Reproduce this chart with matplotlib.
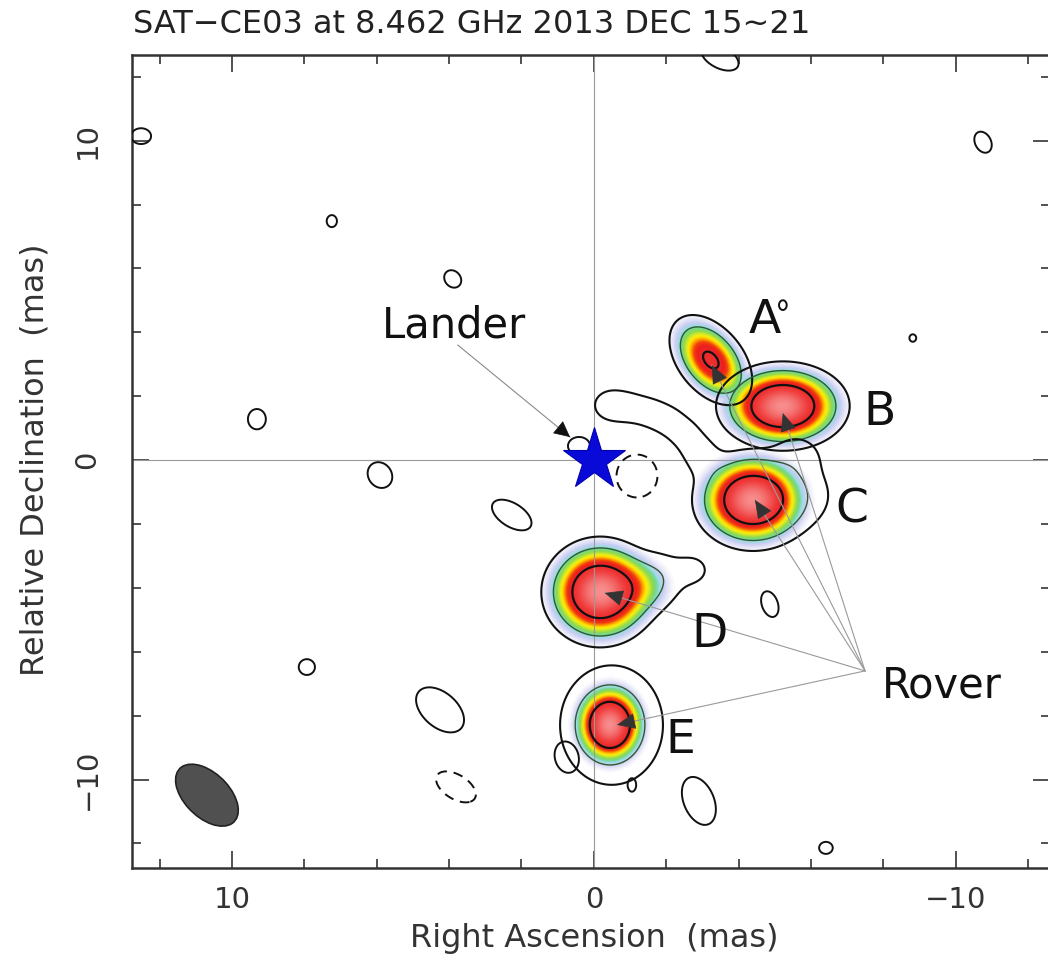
"""
Rover / lander VLBI map at 8.462 GHz, redrawn with matplotlib.
"""
import numpy as np
import matplotlib
matplotlib.use("Agg")
import matplotlib.pyplot as plt
from matplotlib.colors import LinearSegmentedColormap
from matplotlib.patches import Ellipse

# ---- data (mas) -------------------------------------------------------
src_names = ["A", "B", "C", "D", "E"]

# gaussian cores that make the coloured blobs
core_src = [0, 1, 2, 3, 3, 4]
core_x = [-3.23, -5.22, -4.39, -0.17, -1.20, -0.44]
core_y = [3.13, 1.69, -1.25, -4.13, -3.95, -8.29]
core_amp = [0.47, 1.0, 1.0, 1.0, 0.12, 1.0]
core_sa = [0.62, 0.66, 0.60, 0.58, 0.50, 0.40]
core_sb = [0.37, 0.50, 0.57, 0.62, 0.45, 0.52]
core_pa = [58, 0, 0, 0, 0, 0]

# weak extended emission (only seen in the lowest contour)
halo_src = [2, 2, 2, 2, 2, 2, 2, 2, 2, 3, 3, 4]
halo_x = [-0.45, -1.00, -1.55, -2.05, -2.50, -2.85, -3.10, -5.60, -5.60,
          -1.82, -2.73, -0.52]
halo_y = [1.72, 1.65, 1.50, 1.25, 0.85, 0.35, -0.10, 0.10, -1.10,
          -3.60, -3.44, -8.30]
halo_amp = [0.038, 0.028, 0.028, 0.028, 0.028, 0.028, 0.028, 0.04, 0.05,
            0.04, 0.03, 0.045]
halo_sa = [0.36, 0.35, 0.35, 0.35, 0.35, 0.35, 0.35, 0.45, 0.60,
           0.45, 0.35, 1.05]
halo_sb = [0.36, 0.35, 0.35, 0.35, 0.35, 0.35, 0.35, 0.45, 0.60,
           0.45, 0.35, 1.40]
halo_pa = [0] * 12

# residual peaks in the map (negative ones are dashed)
noise_x = [12.51, 7.24, 3.90, 9.31, 5.91, 2.27, 7.93, 4.25, -4.86, -2.90,
           -6.41, -10.75, -8.81, -5.22, -3.48, 0.75, -1.05, 0.41,
           -1.19, 3.81]
noise_y = [10.14, 7.48, 5.67, 1.28, -0.47, -1.72, -6.48, -7.82, -4.51,
           -10.67, -12.14, 9.95, 3.82, 4.85, 12.61, -9.30, -10.17, 0.44,
           -0.50, -10.23]
noise_amp = [0.04] * 18 + [-0.04, -0.04]
noise_sa = [0.235, 0.12, 0.24, 0.21, 0.35, 0.54, 0.19, 0.70, 0.35, 0.66,
            0.16, 0.29, 0.08, 0.09, 0.49, 0.42, 0.10, 0.26, 0.48, 0.54]
noise_sb = [0.21, 0.16, 0.19, 0.27, 0.28, 0.30, 0.21, 0.43, 0.19, 0.36,
            0.16, 0.19, 0.10, 0.13, 0.28, 0.28, 0.18, 0.24, 0.57, 0.31]
noise_pa = [0, 0, 65, 0, 70, 38, 0, 49, 75, 72,
            0, 70, 0, 0, 33, 80, 0, 0, 0, 38]

# restoring beam
beam_x, beam_y = 10.69, -10.49
beam_maj, beam_min, beam_pa = 2.25, 1.30, 51.5

# lander / rover markers
lander_pos = (0.0, 0.0)
rover_from = (-7.49, -6.60)
rover_tip_x = [-3.26, -5.22, -4.45, -0.30, -0.64]
rover_tip_y = [2.97, 1.47, -1.25, -4.16, -8.29]

levels = [0.02, 0.085, 0.42]


def gauss(X, Y, x0, y0, amp, sa, sb, pa):
    t = np.deg2rad(pa)
    dx, dy = X - x0, Y - y0
    u = dx * np.cos(t) + dy * np.sin(t)
    v = -dx * np.sin(t) + dy * np.cos(t)
    return amp * np.exp(-0.5 * ((u / sa) ** 2 + (v / sb) ** 2))


xlim = (12.76, -12.6)
ylim = (-12.77, 12.68)
gx = np.linspace(-12.7, 12.9, 700)
gy = np.linspace(-12.9, 12.8, 700)
X, Y = np.meshgrid(gx, gy)

core_f = [np.zeros_like(X) for _ in src_names]
full_f = [np.zeros_like(X) for _ in src_names]
for i, s in enumerate(core_src):
    g = gauss(X, Y, core_x[i], core_y[i], core_amp[i], core_sa[i], core_sb[i], core_pa[i])
    core_f[s] += g
    full_f[s] += g
for i, s in enumerate(halo_src):
    full_f[s] += gauss(X, Y, halo_x[i], halo_y[i], halo_amp[i], halo_sa[i], halo_sb[i], halo_pa[i])

noise_f = np.zeros_like(X)
for i in range(len(noise_x)):
    noise_f += gauss(X, Y, noise_x[i], noise_y[i], noise_amp[i], noise_sa[i], noise_sb[i], noise_pa[i])

color_f = np.max(np.array(core_f), axis=0)

cmap = LinearSegmentedColormap.from_list("blob", [
    (0.00, (1, 1, 1)),
    (0.012, (1, 1, 1)),
    (0.03, (0.90, 0.90, 0.97)),
    (0.05, (0.78, 0.80, 0.95)),
    (0.07, (0.62, 0.86, 0.90)),
    (0.09, (0.45, 0.85, 0.60)),
    (0.12, (0.55, 0.85, 0.30)),
    (0.16, (0.86, 0.92, 0.15)),
    (0.19, (1.00, 0.93, 0.00)),
    (0.23, (1.00, 0.65, 0.00)),
    (0.28, (0.95, 0.25, 0.05)),
    (0.34, (0.92, 0.12, 0.12)),
    (0.60, (0.94, 0.25, 0.25)),
    (1.00, (0.97, 0.55, 0.55)),
])

plt.rcParams["font.family"] = ["DejaVu Sans"]
fig = plt.figure(figsize=(10.48, 9.58), dpi=100)
ax = fig.add_axes([132 / 1048, 1 - 868 / 958, (1050 - 132) / 1048, (868 - 55) / 958])

ax.imshow(color_f, extent=(gx[0], gx[-1], gy[0], gy[-1]), origin="lower",
          cmap=cmap, vmin=0, vmax=1, interpolation="bilinear", aspect="auto", zorder=1)

ax.axhline(0, color="#9a9a9a", lw=0.8, zorder=2)
ax.axvline(0, color="#9a9a9a", lw=0.8, zorder=2)

for f in full_f:
    ax.contour(X, Y, f, levels=levels, colors=["#111111", "#2f5a2f", "#111111"],
               linewidths=[1.5, 1.0, 1.6], zorder=3)
ax.contour(X, Y, noise_f, levels=[-0.02, 0.02], colors="#111111",
           linewidths=1.4, linestyles=[(0, (5, 3.5)), "solid"], zorder=3)

ax.add_patch(Ellipse((beam_x, beam_y), beam_maj, beam_min, angle=beam_pa,
                     facecolor="#505050", edgecolor="#222222", lw=1.2, zorder=4))

# rover pointers
for tx, ty in zip(rover_tip_x, rover_tip_y):
    ax.plot([rover_from[0], tx], [rover_from[1], ty], color="#9a9a9a", lw=0.8, zorder=4)
    dx, dy = rover_from[0] - tx, rover_from[1] - ty
    d = np.hypot(dx, dy)
    ax.annotate("", xy=(tx, ty), xytext=(tx + 0.45 * dx / d, ty + 0.45 * dy / d),
                arrowprops=dict(arrowstyle="-|>,head_length=0.8,head_width=0.35",
                                color="#333333", lw=0.5, shrinkA=0, shrinkB=0,
                                mutation_scale=15), zorder=5)

# lander pointer
ax.plot([3.76, 0.66], [3.60, 0.72], color="#8a8a8a", lw=0.8, zorder=4)
ax.annotate("", xy=(0.66, 0.72), xytext=(0.95, 0.99),
            arrowprops=dict(arrowstyle="-|>,head_length=0.8,head_width=0.4",
                            color="#111111", lw=0.5, shrinkA=0, shrinkB=0,
                            mutation_scale=13), zorder=5)
ax.plot(*lander_pos, marker="*", ms=47, color="#0a0ad8", mec="#0000b0", mew=0.8, zorder=6)

# labels
lab_kw = dict(fontsize=34, color="#111111", ha="center", va="baseline", zorder=6)
ax.text(-4.72, 3.97, "A", **lab_kw)
ax.text(-7.90, 1.10, "B", **lab_kw)
ax.text(-7.13, -1.97, "C", **lab_kw)
ax.text(-3.20, -5.85, "D", **lab_kw)
ax.text(-2.40, -9.17, "E", **lab_kw)
ax.text(-7.96, -7.42, "Rover", fontsize=30, color="#111111", ha="left", va="baseline", zorder=6)
ax.text(5.86, 3.85, "Lander", fontsize=30, color="#111111", ha="left", va="baseline", zorder=6)

ax.set_xlim(*xlim)
ax.set_ylim(*ylim)
ax.set_xticks([10, 0, -10])
ax.set_yticks([-10, 0, 10])
minor = [-12, -8, -6, -4, -2, 2, 4, 6, 8, 12]
ax.set_xticks(minor, minor=True)
ax.set_yticks(minor, minor=True)
ax.tick_params(which="both", direction="in", top=True, right=True,
               color="#333333", width=1.2, labelcolor="#333333")
ax.tick_params(which="major", length=12)
ax.tick_params(which="minor", length=6.5)
ax.tick_params(axis="x", pad=13, labelsize=21)
ax.tick_params(axis="y", pad=22, labelsize=21, labelrotation=90)
for lbl in ax.get_yticklabels():
    lbl.set_va("center")
for sp in ax.spines.values():
    sp.set_color("#333333")
    sp.set_linewidth(1.8)

fig.text(133 / 1048, 1 - 33 / 958, "SAT\u2212CE03 at 8.462 GHz 2013 DEC 15~21",
         fontsize=23, color="#222222", ha="left", va="baseline")
fig.text(594 / 1048, 1 - 947 / 958, "Right Ascension  (mas)",
         fontsize=23, color="#333333", ha="center", va="baseline")
fig.text(35 / 1048, 1 - 460 / 958, "Relative Declination  (mas)",
         fontsize=23, color="#333333", ha="center", va="center", rotation=90)

fig.savefig("out.png", dpi=100)
plt.close(fig)
